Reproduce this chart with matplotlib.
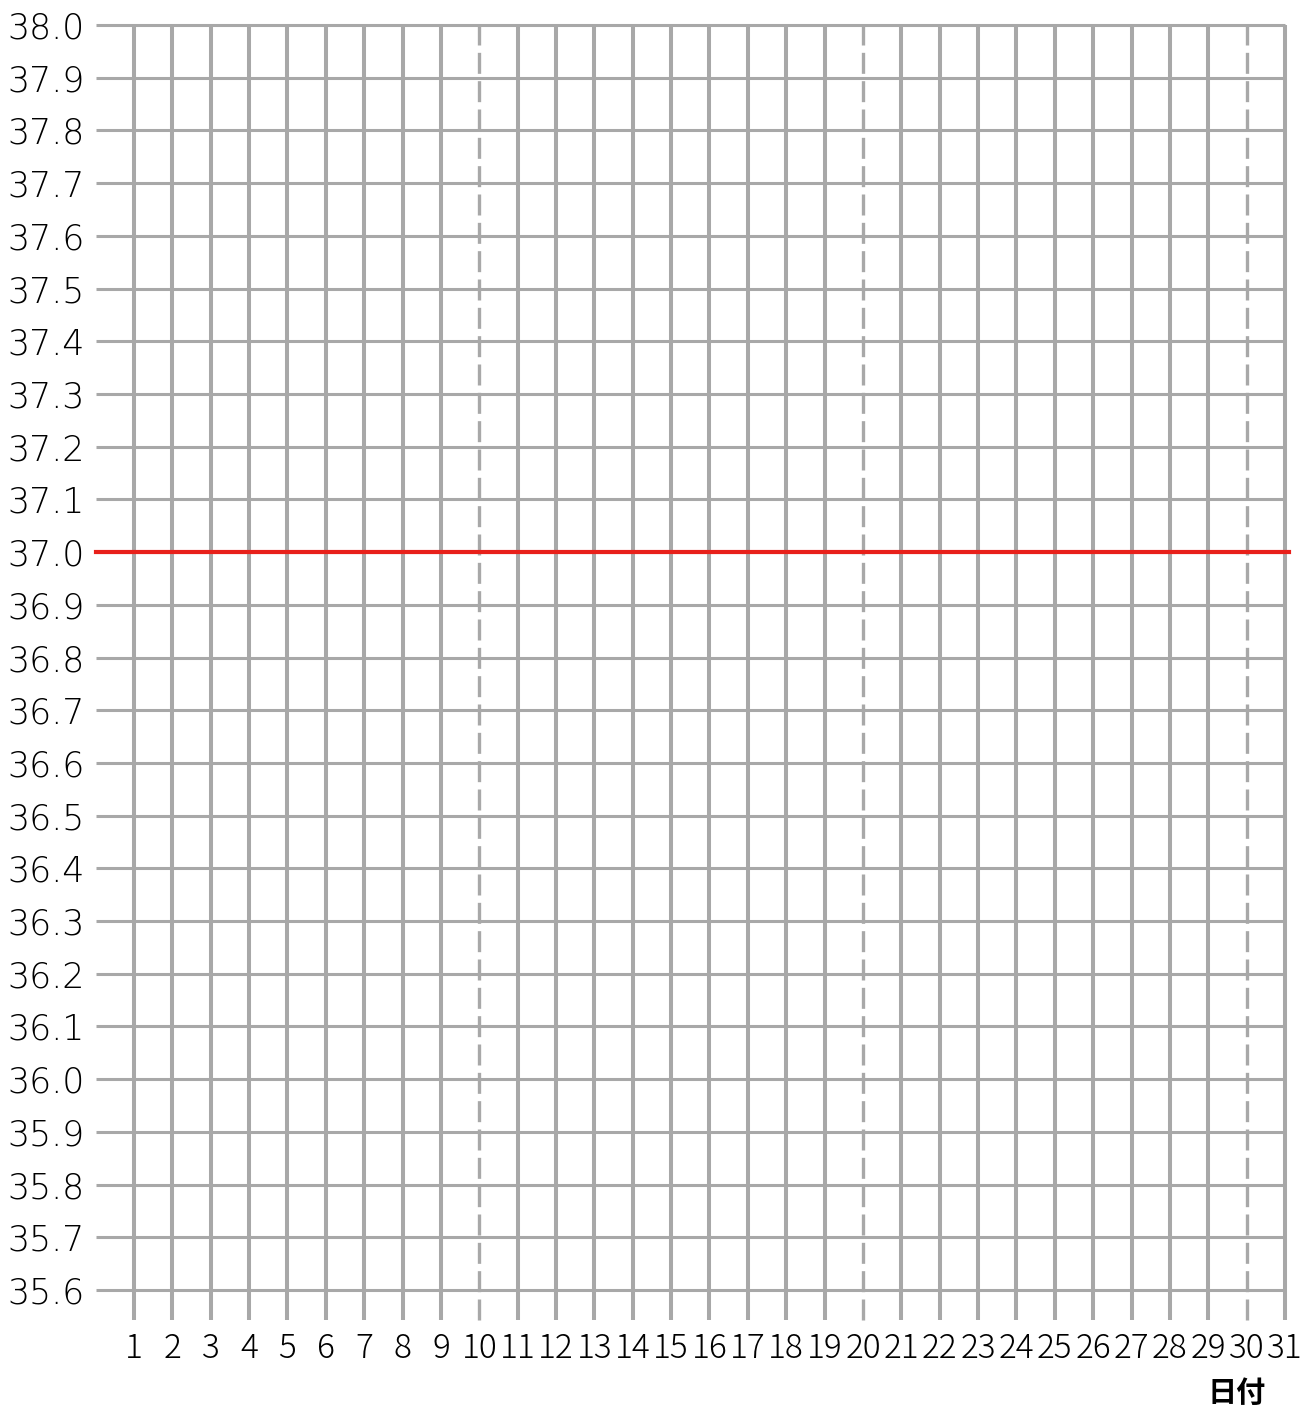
import matplotlib
matplotlib.use("Agg")
from matplotlib import pyplot as plt
import numpy as np

plt.rcParams['font.family'] = ['DejaVu Sans', 'Noto Sans CJK JP']

days = list(range(1, 32))
temps = [round(35.6 + 0.1 * i, 1) for i in range(25)]
temp_labels = ["%.1f" % t for t in temps]
threshold = 37.0
dashed_days = [10, 20, 30]
x_label = "日付"

fig = plt.figure(figsize=(13.16, 14.10), dpi=100)
ax = fig.add_axes([95.6 / 1316, 120 / 1410, 1189.4 / 1316, 1265 / 1410])
ax.set_xlim(0, 31)
ax.set_ylim(35.6, 38.0)
for s in ax.spines.values():
    s.set_visible(False)

grey = '#a8a8a8'

# horizontal grid
ax.hlines(temps, 0, 31, color=grey, lw=2.2, clip_on=False, zorder=1)

# vertical grid
solid_days = [d for d in days if d not in dashed_days]
ax.vlines(solid_days, 35.543, 38.0, color=grey, lw=2.9, clip_on=False, zorder=2)
for d in dashed_days:
    ax.plot([d, d], [35.543, 38.0], color=grey, lw=2.4, clip_on=False,
            dashes=(6.3, 2.2), zorder=2, solid_capstyle='butt')

# threshold line
ax.plot([0, 31.1], [threshold, threshold], color='#e8201a', lw=3.0,
        clip_on=False, zorder=3)

ax.set_yticks(temps)
ax.set_yticklabels(temp_labels)
ax.set_xticks(days)
ax.set_xticklabels([str(d) for d in days])
ax.tick_params(axis='y', length=0, pad=8, labelsize=25)
ax.tick_params(axis='x', length=0, pad=30, labelsize=24)
for lbl in ax.get_yticklabels():
    lbl.set_fontweight('light')
for lbl in ax.get_xticklabels():
    lbl.set_family(['Noto Sans CJK JP'])
    lbl.set_fontweight('light')

fig.text(1237 / 1316, 1 - 1393 / 1410, x_label, ha='center', va='center',
         fontsize=21, fontweight='bold', family=['Noto Sans CJK JP'])

fig.savefig("out.png", dpi=100, facecolor='white')
